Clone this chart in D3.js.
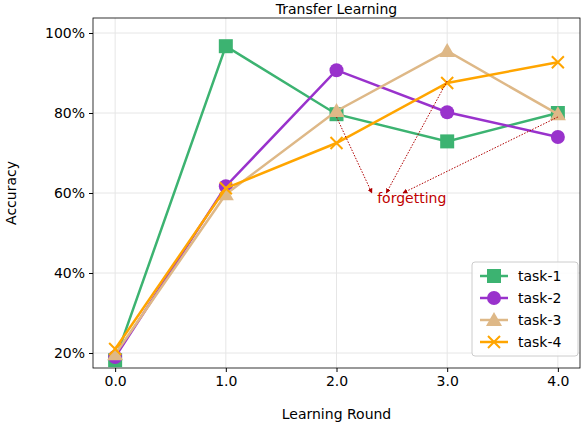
<!DOCTYPE html><html><head><script src="https://cdn.jsdelivr.net/npm/d3@7"></script>
<style>body{margin:0;background:#fff}text{font-family:"DejaVu Sans",sans-serif}</style></head><body>
<svg id="c" width="584" height="424"></svg>
<script>
const rounds=[0,1,2,3,4];
const yTicks=[0.2,0.4,0.6,0.8,1.0];
const names=["task-1","task-2","task-3","task-4"];
const colors=["#3cb371","#9932cc","#deb887","#ffa500"];
const task1=[0.182,0.967,0.797,0.729,0.800];
const task2=[0.190,0.617,0.907,0.802,0.740];
const task3=[0.197,0.597,0.805,0.955,0.797];
const task4=[0.210,0.612,0.725,0.875,0.927];
const series=[task1,task2,task3,task4];
const arrows=[[2,0.79,2.32,0.60],[3,0.88,2.45,0.60],[4,0.79,2.6,0.60]];
const svg=d3.select("#c");
const L=93,R=580,T=18,B=368;
const x=d3.scaleLinear().domain([-0.2,4.2]).range([L,R]);
const y=d3.scaleLinear().domain([0.1625,1.0375]).range([B,T]);
const g=svg.append("g");
g.selectAll(".gx").data(rounds).join("line").attr("x1",d=>x(d)).attr("x2",d=>x(d)).attr("y1",T).attr("y2",B).attr("stroke","#e6e6e6");
g.selectAll(".gy").data(yTicks).join("line").attr("y1",d=>y(d)).attr("y2",d=>y(d)).attr("x1",L).attr("x2",R).attr("stroke","#e6e6e6");
const xa=svg.append("g").attr("transform",`translate(0,${B})`).call(d3.axisBottom(x).tickValues(rounds).tickSize(4).tickPadding(4));
const ya=svg.append("g").attr("transform",`translate(${L},0)`).call(d3.axisLeft(y).tickValues(yTicks).tickFormat(d3.format(".0%")).tickSize(4).tickPadding(4));
[xa,ya].forEach(a=>{a.select(".domain").remove();a.selectAll("text").attr("font-size",14).attr("fill","#000");});
svg.append("rect").attr("x",L).attr("y",T).attr("width",R-L).attr("height",B-T).attr("fill","none").attr("stroke","#000").attr("stroke-width",0.8);
svg.append("text").attr("x",(L+R)/2).attr("y",14).attr("text-anchor","middle").attr("font-size",14).text("Transfer Learning");
svg.append("text").attr("x",(L+R)/2).attr("y",419).attr("text-anchor","middle").attr("font-size",14).text("Learning Round");
svg.append("text").attr("transform",`translate(16,${(T+B)/2}) rotate(-90)`).attr("text-anchor","middle").attr("font-size",14).text("Accuracy");
const defs=svg.append("defs");
defs.append("marker").attr("id","ah").attr("viewBox","0 0 10 10").attr("refX",9).attr("refY",5).attr("markerWidth",5).attr("markerHeight",5).attr("orient","auto").append("path").attr("d","M0,0L10,5L0,10z").attr("fill","#b00000");
const line=d3.line().x((d,i)=>x(rounds[i])).y(d=>y(d));
function marker(sel,k,c){
  if(k==0) sel.append("rect").attr("x",-7).attr("y",-7).attr("width",14).attr("height",14).attr("fill",c);
  else if(k==1) sel.append("circle").attr("r",7).attr("fill",c);
  else if(k==2) sel.append("path").attr("d","M0,-8L8,6L-8,6Z").attr("fill",c);
  else sel.append("path").attr("d","M-6,-6L6,6M-6,6L6,-6").attr("stroke",c).attr("stroke-width",2);
}
series.forEach((s,k)=>{
  svg.append("path").attr("d",line(s)).attr("fill","none").attr("stroke",colors[k]).attr("stroke-width",2.5);
  s.forEach((v,i)=>{marker(svg.append("g").attr("transform",`translate(${x(rounds[i])},${y(v)})`),k,colors[k]);});
});
arrows.forEach(a=>svg.append("line").attr("x1",x(a[0])).attr("y1",y(a[1])).attr("x2",x(a[2])).attr("y2",y(a[3])).attr("stroke","#b00000").attr("stroke-width",1).attr("stroke-dasharray","1.5,1.5").attr("marker-end","url(#ah)"));
svg.append("text").attr("x",x(2.68)).attr("y",y(0.575)).attr("text-anchor","middle").attr("font-size",14).attr("fill","#c00000").text("forgetting");
const lg=svg.append("g").attr("transform","translate(472,262)");
lg.append("rect").attr("width",106).attr("height",94).attr("rx",3).attr("fill","#fff").attr("fill-opacity",0.85).attr("stroke","#ccc");
names.forEach((n,k)=>{
  const r=lg.append("g").attr("transform",`translate(0,${14+k*22})`);
  r.append("line").attr("x1",8).attr("x2",36).attr("stroke",colors[k]).attr("stroke-width",2.5);
  marker(r.append("g").attr("transform","translate(22,0)"),k,colors[k]);
  r.append("text").attr("x",46).attr("y",5).attr("font-size",14).text(n);
});
</script></body></html>
